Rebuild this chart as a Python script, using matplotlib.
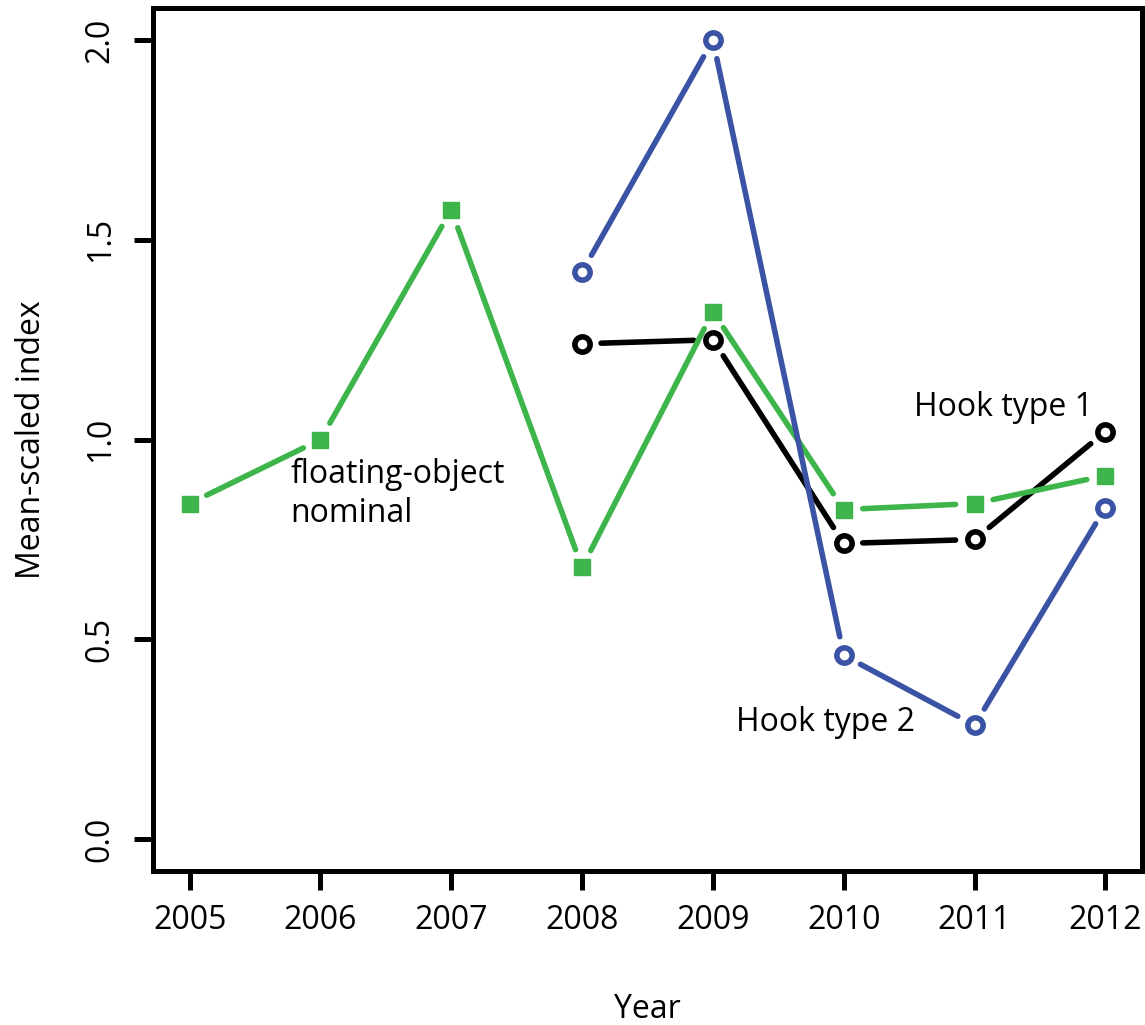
import numpy as np
import matplotlib.pyplot as plt

plt.rcParams['font.family'] = ['Open Sans', 'DejaVu Sans']

# data
years_nominal = [2005, 2006, 2007, 2008, 2009, 2010, 2011, 2012]
nominal = [0.84, 1.00, 1.575, 0.68, 1.32, 0.825, 0.84, 0.91]

years_hook = [2008, 2009, 2010, 2011, 2012]
hook1 = [1.24, 1.25, 0.74, 0.75, 1.02]
hook2 = [1.42, 2.00, 0.46, 0.285, 0.83]

green = "#3db54a"
blue = "#3a53a4"


def gap_line(ax, x, y, color, gap=19, lw=4.0):
    # R type="b": line segments stop short of the points
    pts = ax.transData.transform(np.column_stack([x, y]))
    inv = ax.transData.inverted()
    for p0, p1 in zip(pts[:-1], pts[1:]):
        d = p1 - p0
        u = d / np.hypot(*d)
        seg = inv.transform([p0 + u * gap, p1 - u * gap])
        ax.plot(seg[:, 0], seg[:, 1], color=color, lw=lw,
                solid_capstyle="round", zorder=2)


fig = plt.figure(figsize=(11.45, 10.25), dpi=100)
ax = fig.add_axes([0.1336, 0.1502, 0.8638, 0.8418])
ax.set_xlim(2004.72, 2012.28)
ax.set_ylim(-0.08, 2.08)

gap_line(ax, years_hook, hook1, "black")
ax.plot(years_hook, hook1, "o", ms=11, mfc="white", mec="black", mew=4.0,
        ls="none", zorder=3)

gap_line(ax, years_nominal, nominal, green)
ax.plot(years_nominal, nominal, "s", ms=11.5, color=green, ls="none",
        zorder=3)

gap_line(ax, years_hook, hook2, blue)
ax.plot(years_hook, hook2, "o", ms=11, mfc="white", mec=blue, mew=4.0,
        ls="none", zorder=3)

ax.text(2005.77, 0.864, "floating-object\nnominal", fontsize=23,
        ha="left", va="center", linespacing=1.25)
ax.text(2010.54, 1.081, "Hook type 1", fontsize=23, ha="left", va="center")
ax.text(2009.18, 0.293, "Hook type 2", fontsize=23, ha="left", va="center")

ax.set_xticks(years_nominal)
ax.set_xticklabels([str(y) for y in years_nominal])
ax.set_yticks([0.0, 0.5, 1.0, 1.5, 2.0])
ax.set_yticklabels(["0.0", "0.5", "1.0", "1.5", "2.0"], rotation=90,
                   va="center")
ax.tick_params(axis="both", length=14, width=3.6, labelsize=23, pad=10)
ax.tick_params(axis="y", pad=12)
for s in ax.spines.values():
    s.set_linewidth(3.6)

ax.set_xlabel("Year", fontsize=23, labelpad=40)
ax.set_ylabel("Mean-scaled index", fontsize=23, labelpad=26)

plt.savefig("out.png", dpi=100)
